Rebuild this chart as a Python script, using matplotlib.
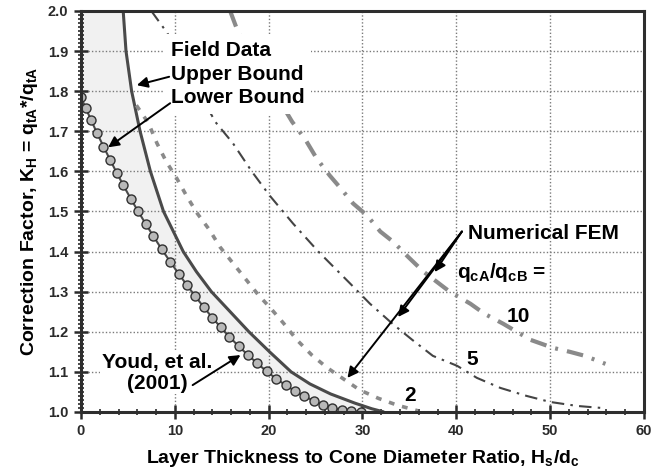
#Libraries importation:--------------------------------------------------------

import numpy as np
import matplotlib
matplotlib.use("Agg")
import matplotlib.pyplot as plt
from matplotlib.ticker import MultipleLocator,FormatStrFormatter

#Data:-------------------------------------------------------------------------

upper_x = [4.5,4.8,5.4,6.3,7.4,8.8,10.9,12.3,13.9,15.9,17.9,20.1,22.4,24.4,26.6,29.2,31.0,32.3]
upper_y = [2.0,1.9,1.8,1.7,1.6,1.5,1.4,1.35,1.3,1.25,1.2,1.15,1.1,1.07,1.045,1.022,1.008,1.0]

#Youd et al. (2001) markers
youd_x = [0.0,0.5,1.1,1.7,2.4,3.1,3.8,4.5,5.3,6.1,6.9,7.7,8.6,9.5,10.4,11.3,12.2,13.1,
          14.0,14.9,15.8,16.8,17.8,18.8,19.8,20.8,21.8,22.8,23.8,24.8,25.8,26.8,27.8,28.8,29.8]
youd_y = [1.785,1.758,1.727,1.696,1.662,1.629,1.597,1.566,1.532,1.500,1.469,1.439,1.406,
          1.375,1.345,1.316,1.288,1.261,1.235,1.211,1.188,1.164,1.142,1.121,1.101,1.083,
          1.067,1.052,1.039,1.028,1.018,1.010,1.005,1.002,1.0]

fem2_x = [5.9,7.2,8.1,9.1,10.2,11.3,12.4,13.7,14.8,16.2,17.5,18.9,20.2,21.6,23.0,24.6,26.2,28.0,29.7,31.7,33.7,35.9]
fem2_y = [1.765,1.72,1.67,1.624,1.583,1.537,1.495,1.454,1.412,1.371,1.333,1.292,1.259,1.221,1.18,1.142,1.111,1.082,1.055,1.034,1.017,1.003]

fem5_x = [7.5,9.2,14.3,16.2,18.2,20.1,22.6,25.3,28.7,30.8,33.2,35.3,37.5,40.1,42.2,44.7,47.5,50.0,52.9,55.5]
fem5_y = [2.0,1.945,1.724,1.67,1.60,1.54,1.47,1.40,1.32,1.27,1.22,1.18,1.14,1.115,1.085,1.06,1.04,1.025,1.015,1.01]

fem10_x = [15.9,16.7,22.5,23.9,25.1,26.5,27.6,29.0,30.5,31.9,33.3,34.9,36.5,39.3,41.5,43.0,45.0,47.9,50.3,52.1,53.7,55.9]
fem10_y = [2.0,1.95,1.724,1.68,1.633,1.59,1.56,1.52,1.49,1.45,1.424,1.386,1.35,1.30,1.27,1.245,1.22,1.18,1.16,1.15,1.14,1.12]

#Style:------------------------------------------------------------------------

plt.rcParams['font.family'] = ['Liberation Sans','DejaVu Sans']
plt.rcParams['font.weight'] = 'bold'
plt.rcParams['mathtext.fontset'] = 'custom'
plt.rcParams['mathtext.rm'] = 'Liberation Sans:bold'
plt.rcParams['mathtext.it'] = 'Liberation Sans:bold'
plt.rcParams['mathtext.bf'] = 'Liberation Sans:bold'

dark = '#4a4a4a'
grey = '#8a8a8a'
txt_size = 15

fig = plt.figure(figsize=(6.61,4.76),dpi=100)
ax = fig.add_axes([0.1225,0.1345,0.8517,0.8424])

#Field data band:--------------------------------------------------------------

band_x = list(upper_x) + youd_x[::-1] + [0.0]
band_y = list(upper_y) + youd_y[::-1] + [2.0]
ax.fill(band_x,band_y,color='#f1f1f1',lw=0,zorder=0.2)

ax.plot(upper_x,upper_y,color=dark,lw=2.2,solid_capstyle='butt',zorder=2)
ax.plot(youd_x,youd_y,color=dark,lw=1.5,marker='o',markersize=6.5,
        markerfacecolor='#b8b8b8',markeredgecolor='#303030',markeredgewidth=1,zorder=2.2)

#Numerical FEM curves:---------------------------------------------------------

ax.plot(fem2_x,fem2_y,color=grey,lw=2.6,dashes=(1.6,2.2),zorder=2)
ax.plot(fem5_x,fem5_y,color='#444444',lw=1.5,dashes=(6,3,1.2,3),zorder=2)
ax.plot(fem10_x,fem10_y,color=grey,lw=3,dashes=(4,2.2,0.7,2.2),zorder=2)

#Annotations:------------------------------------------------------------------

arrow = dict(arrowstyle='-|>',color='black',lw=1.4,mutation_scale=16,shrinkA=0,shrinkB=0)

ax.text(9.55,1.925,'Field Data\nUpper Bound\nLower Bound',fontsize=txt_size,
        ha='left',va='top',linespacing=1.3,
        bbox=dict(facecolor='white',edgecolor='none',pad=5),zorder=3)
ax.annotate('',xy=(5.95,1.815),xytext=(9.4,1.836),arrowprops=arrow,zorder=4)
ax.annotate('',xy=(2.9,1.66),xytext=(9.5,1.77),arrowprops=arrow,zorder=4)

ax.text(8.1,1.097,'Youd, et al.\n(2001)',fontsize=txt_size,ha='center',va='center',
        linespacing=1.1,bbox=dict(facecolor='white',edgecolor='none',pad=1),zorder=3)
ax.annotate('',xy=(17.0,1.142),xytext=(11.9,1.067),arrowprops=arrow,zorder=4)

ax.text(41.2,1.444,'Numerical FEM',fontsize=txt_size,ha='left',va='center',zorder=3)
ax.text(40.1,1.349,r'$\mathrm{q_{cA}/q_{cB}}$ =',fontsize=txt_size,ha='left',va='center',zorder=3)
for tip in [(37.7,1.349),(33.8,1.237),(28.4,1.085)]:
    ax.annotate('',xy=tip,xytext=(40.6,1.45),arrowprops=arrow,zorder=4)

ax.text(46.6,1.239,'10',fontsize=txt_size,ha='center',va='center')
ax.text(41.65,1.131,'5',fontsize=txt_size,ha='center',va='center')
ax.text(35.07,1.040,'2',fontsize=txt_size,ha='center',va='center')

#Axes:-------------------------------------------------------------------------

ax.set_xlim(0,60)
ax.set_ylim(1.0,2.0)
ax.xaxis.set_major_locator(MultipleLocator(10))
ax.xaxis.set_minor_locator(MultipleLocator(2))
ax.yaxis.set_major_locator(MultipleLocator(0.1))
ax.yaxis.set_minor_locator(MultipleLocator(0.01))
ax.yaxis.set_major_formatter(FormatStrFormatter('%.1f'))

ax.tick_params(which='major',direction='inout',length=10,width=1.8,colors='#2a2a2a',
               labelsize=10.5,pad=4)
ax.tick_params(which='minor',direction='inout',length=5,width=1.2,color='#2a2a2a')
for label in ax.get_xticklabels()+ax.get_yticklabels():
    label.set_fontweight('bold')

for spine in ax.spines.values():
    spine.set_linewidth(2.2)
    spine.set_color('#2e2e2e')

ax.set_axisbelow('line')
ax.grid(True,which='major',color='#7a7a7a',lw=1,linestyle=(0,(1,1.5)))

ax.set_xlabel(r'Layer Thickness to Cone Diameter Ratio, H$_\mathrm{s}$/d$_\mathrm{c}$',
              fontsize=14,fontweight='bold',labelpad=7)
ax.set_ylabel(r'Correction Factor, K$_\mathrm{H}$ = q$_\mathrm{tA}$*/q$_\mathrm{tA}$',
              fontsize=14,fontweight='bold',labelpad=6)

fig.savefig('out.png',dpi=100)
